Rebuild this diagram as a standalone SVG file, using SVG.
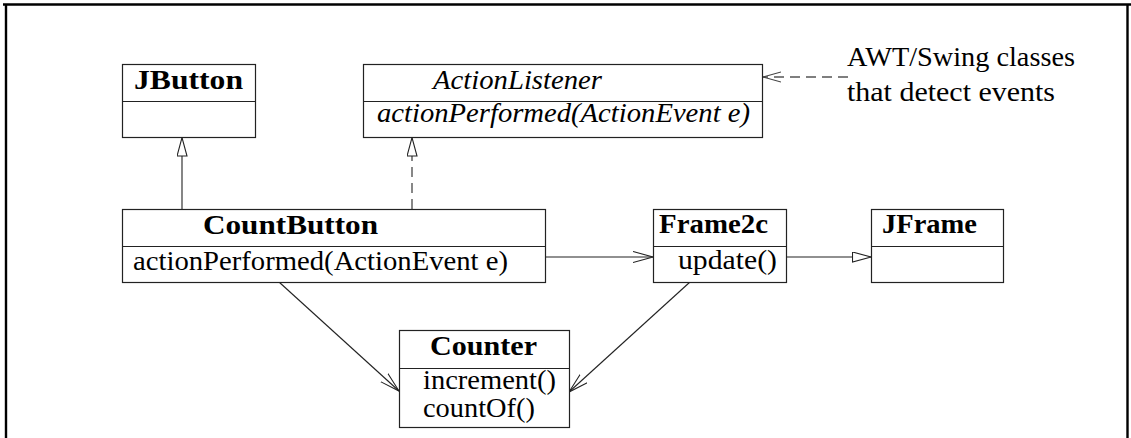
<svg xmlns="http://www.w3.org/2000/svg" width="1131" height="438" viewBox="0 0 1131 438" font-family="'Liberation Serif', 'DejaVu Serif', serif">
  <style>
    .box { fill: #fff; stroke: #222; stroke-width: 1.2; }
    .div { stroke: #222; stroke-width: 1.2; }
    .edge { fill: none; stroke: #222; stroke-width: 1.1; }
    .dash { fill: none; stroke: #555; stroke-width: 1.4; stroke-dasharray: 10 6; }
    .frame { fill: none; stroke: #000; stroke-width: 2.4; }
    text { font-family: 'Liberation Serif', 'DejaVu Serif', serif; font-size: 26.5px; fill: #000; }
    .b { font-weight: bold; }
    .i { font-style: italic; }
  </style>
  <defs>
    <marker id="open" markerUnits="userSpaceOnUse" markerWidth="24" markerHeight="14" refX="20" refY="6" orient="auto">
      <path d="M0,0.5 L20,6 L0,11.5" fill="none" stroke="#222" stroke-width="1.1"/>
    </marker>
    <marker id="openGray" markerUnits="userSpaceOnUse" markerWidth="22" markerHeight="12" refX="18" refY="5.5" orient="auto">
      <path d="M0,0.5 L18,5.5 L0,10.5" fill="none" stroke="#444" stroke-width="1.2"/>
    </marker>
    <marker id="tri" markerUnits="userSpaceOnUse" markerWidth="22" markerHeight="12" refX="19" refY="5.5" orient="auto">
      <path d="M0.5,0.5 L19,5.5 L0.5,10.5 Z" fill="#fff" stroke="#222" stroke-width="1.1"/>
    </marker>
  </defs>

  <!-- outer frame -->
  <path class="frame" d="M3,4.5 H1131 M6,4 V438 M1127.5,4 V438"/>

  <!-- connectors -->
  <g id="connectors">
    <path class="edge" d="M182,209 L182,137.5" marker-end="url(#tri)"/>
    <path class="dash" d="M412,209 L412,137.5" marker-end="url(#tri)"/>
    <path class="dash" d="M848,77 L763,77" marker-end="url(#openGray)"/>
    <path class="edge" d="M545,257 L653,257" marker-end="url(#open)"/>
    <path class="edge" d="M786,257 L871,257" marker-end="url(#tri)"/>
    <path class="edge" d="M279,282 L399,391" marker-end="url(#open)"/>
    <path class="edge" d="M690,282 L569,392" marker-end="url(#open)"/>
  </g>

  <g id="JButton">
    <rect class="box" x="122.5" y="64.5" width="133" height="73"/>
    <line class="div" x1="122.5" y1="101.5" x2="255.5" y2="101.5"/>
    <text class="b" x="134" y="89" textLength="109" lengthAdjust="spacingAndGlyphs">JButton</text>
  </g>

  <g id="ActionListener">
    <rect class="box" x="363.5" y="64.5" width="399" height="73"/>
    <line class="div" x1="363.5" y1="101.5" x2="762.5" y2="101.5"/>
    <text class="i" x="433" y="89" textLength="169" lengthAdjust="spacingAndGlyphs">ActionListener</text>
    <text class="i" x="377" y="122" textLength="373" lengthAdjust="spacingAndGlyphs">actionPerformed(ActionEvent e)</text>
  </g>

  <g id="note">
    <text x="847" y="66" textLength="228" lengthAdjust="spacingAndGlyphs">AWT/Swing classes</text>
    <text x="847" y="101" textLength="208" lengthAdjust="spacingAndGlyphs">that detect events</text>
  </g>

  <g id="CountButton">
    <rect class="box" x="122.5" y="209.5" width="423" height="73"/>
    <line class="div" x1="122.5" y1="246.5" x2="545.5" y2="246.5"/>
    <text class="b" x="203" y="234" textLength="175" lengthAdjust="spacingAndGlyphs">CountButton</text>
    <text x="133" y="270" textLength="375" lengthAdjust="spacingAndGlyphs">actionPerformed(ActionEvent e)</text>
  </g>

  <g id="Frame2c">
    <rect class="box" x="653.5" y="209.5" width="133" height="73"/>
    <line class="div" x1="653.5" y1="246.5" x2="786.5" y2="246.5"/>
    <text class="b" x="659" y="233" textLength="109" lengthAdjust="spacingAndGlyphs">Frame2c</text>
    <text x="678" y="269" textLength="99" lengthAdjust="spacingAndGlyphs">update()</text>
  </g>

  <g id="JFrame">
    <rect class="box" x="871.5" y="209.5" width="132" height="73"/>
    <line class="div" x1="871.5" y1="246.5" x2="1003.5" y2="246.5"/>
    <text class="b" x="882" y="233" textLength="95" lengthAdjust="spacingAndGlyphs">JFrame</text>
  </g>

  <g id="Counter">
    <rect class="box" x="399.5" y="330.5" width="170" height="97"/>
    <line class="div" x1="399.5" y1="368.5" x2="569.5" y2="368.5"/>
    <text class="b" x="430" y="355" textLength="107" lengthAdjust="spacingAndGlyphs">Counter</text>
    <text x="423" y="389" textLength="133" lengthAdjust="spacingAndGlyphs">increment()</text>
    <text x="423" y="417" textLength="112" lengthAdjust="spacingAndGlyphs">countOf()</text>
  </g>
</svg>
